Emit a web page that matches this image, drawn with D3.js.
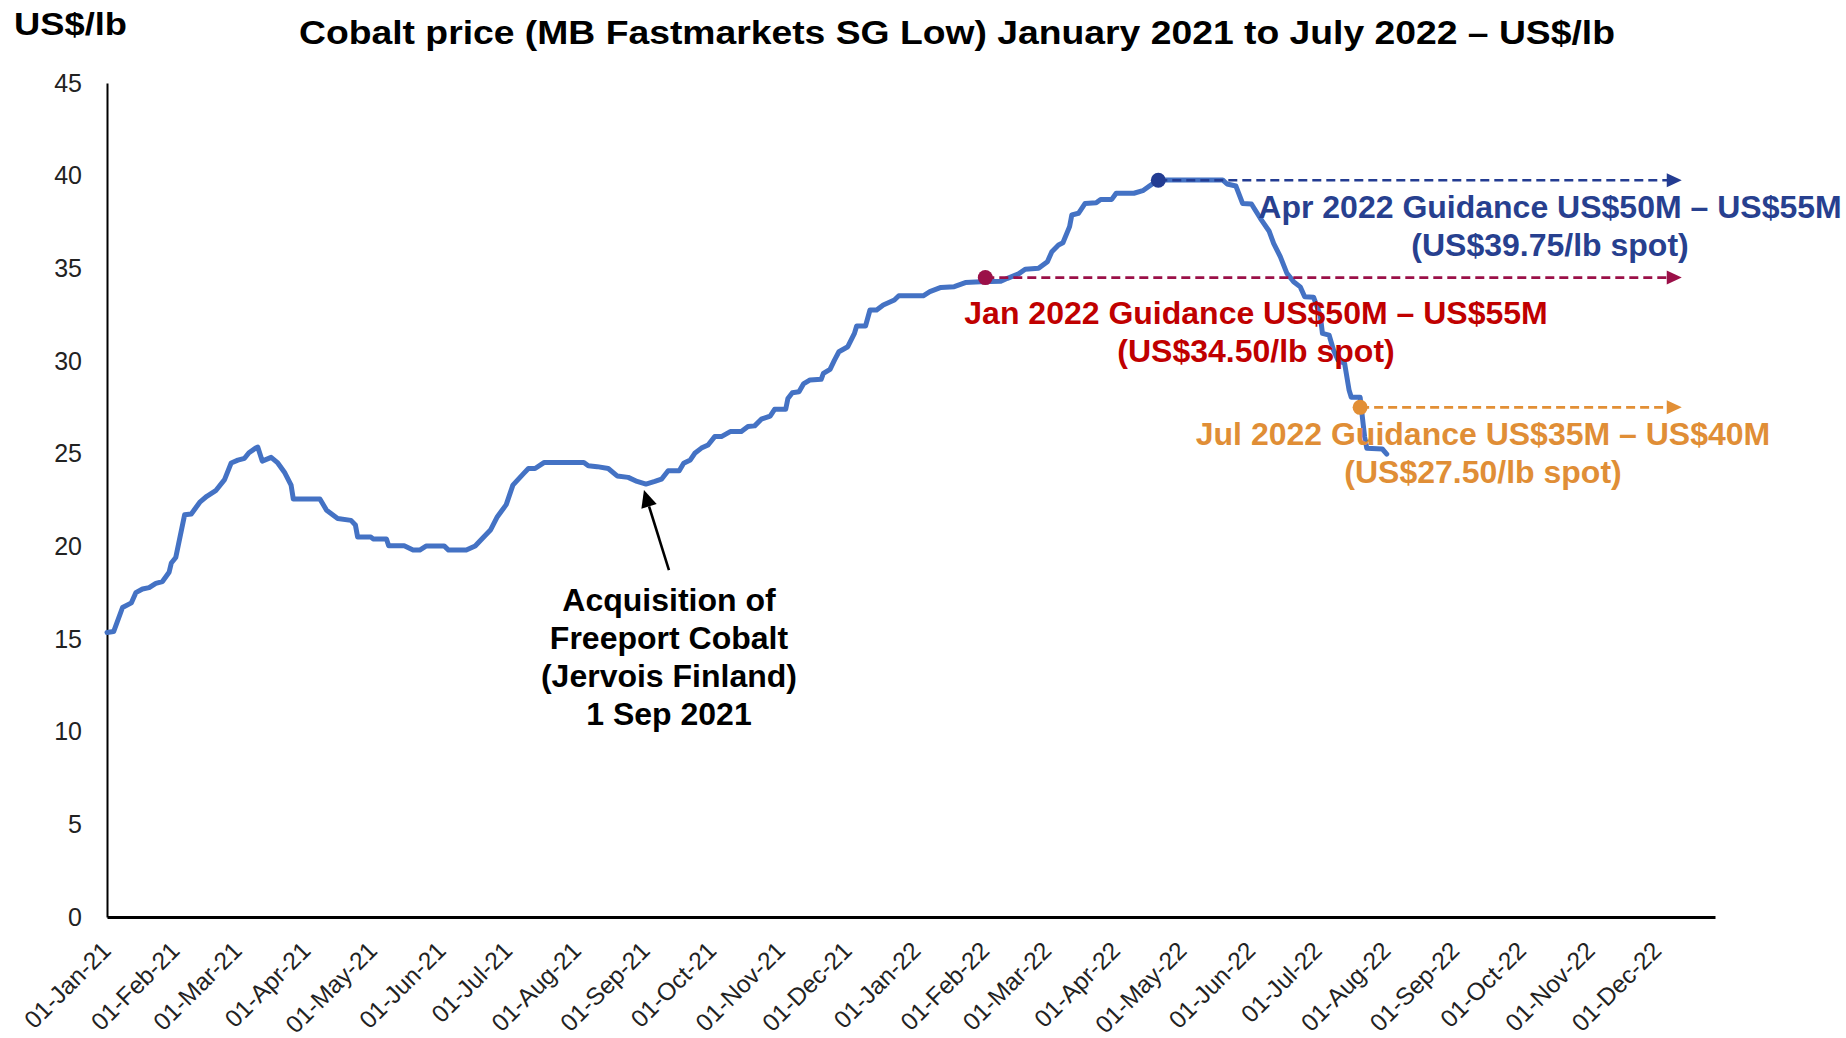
<!DOCTYPE html>
<html><head><meta charset="utf-8">
<script src="https://cdn.jsdelivr.net/npm/d3@7"></script>
<style>
body{margin:0;background:#fff}
svg{display:block}
text{font-family:"Liberation Sans",Arial,Helvetica,sans-serif}
</style>
</head><body>
<svg id="chart" width="1846" height="1038"></svg>
<script>
// ---------- data ----------
const dates = [
"2021-01-01","2021-01-04","2021-01-08","2021-01-12","2021-01-14","2021-01-17","2021-01-20","2021-01-23","2021-01-26","2021-01-29","2021-01-30",
"2021-02-01","2021-02-05","2021-02-08","2021-02-12","2021-02-15","2021-02-19","2021-02-23","2021-02-26",
"2021-03-01","2021-03-04","2021-03-06","2021-03-09","2021-03-10","2021-03-12","2021-03-16","2021-03-19","2021-03-22","2021-03-25","2021-03-26",
"2021-04-07","2021-04-10","2021-04-15","2021-04-21","2021-04-23","2021-04-24","2021-04-30",
"2021-05-01","2021-05-07","2021-05-08","2021-05-15","2021-05-19","2021-05-22","2021-05-25",
"2021-06-02","2021-06-04","2021-06-12","2021-06-16","2021-06-19","2021-06-23","2021-06-26","2021-06-30",
"2021-07-03","2021-07-08","2021-07-10","2021-07-13","2021-07-17",
"2021-08-04","2021-08-06","2021-08-10","2021-08-15","2021-08-19","2021-08-24","2021-08-28",
"2021-09-01","2021-09-05","2021-09-08","2021-09-11","2021-09-16","2021-09-18","2021-09-21","2021-09-23","2021-09-26","2021-09-29",
"2021-10-02","2021-10-05","2021-10-09","2021-10-14","2021-10-17","2021-10-20","2021-10-23","2021-10-27","2021-10-29",
"2021-11-03","2021-11-04","2021-11-06","2021-11-09","2021-11-11","2021-11-14","2021-11-19","2021-11-20","2021-11-23","2021-11-25","2021-11-27",
"2021-12-01","2021-12-04","2021-12-05","2021-12-09","2021-12-11","2021-12-14","2021-12-17","2021-12-22","2021-12-24",
"2022-01-04","2022-01-07","2022-01-12","2022-01-18","2022-01-23","2022-01-30",
"2022-02-08","2022-02-11","2022-02-16","2022-02-19","2022-02-25",
"2022-03-01","2022-03-03","2022-03-06","2022-03-08","2022-03-11","2022-03-12","2022-03-15","2022-03-18","2022-03-23","2022-03-25","2022-03-30",
"2022-04-01","2022-04-09","2022-04-13","2022-04-16","2022-04-20",
"2022-05-19","2022-05-21","2022-05-25","2022-05-28",
"2022-06-01","2022-06-05","2022-06-09","2022-06-11","2022-06-14","2022-06-17","2022-06-20","2022-06-23","2022-06-25","2022-06-29",
"2022-07-02","2022-07-03","2022-07-06","2022-07-08","2022-07-10","2022-07-13","2022-07-15","2022-07-16","2022-07-20","2022-07-22","2022-07-23","2022-07-30","2022-08-01"
];
const prices = [
15.35,15.4,16.7,16.95,17.5,17.7,17.77,18.0,18.1,18.6,19.1,
19.4,21.7,21.75,22.4,22.7,23.0,23.6,24.5,
24.65,24.75,25.05,25.3,25.35,24.6,24.8,24.5,24.0,23.3,22.55,
22.55,21.95,21.5,21.4,21.15,20.5,20.5,
20.4,20.4,20.03,20.03,19.8,19.8,20.02,
20.02,19.8,19.8,20.02,20.4,20.9,21.6,22.25,
23.3,23.95,24.2,24.2,24.52,
24.52,24.35,24.3,24.2,23.8,23.72,23.5,
23.36,23.5,23.62,24.08,24.08,24.48,24.66,25.02,25.3,25.47,
25.92,25.92,26.19,26.19,26.46,26.5,26.86,27.03,27.39,
27.39,27.98,28.29,28.34,28.76,28.98,29.01,29.33,29.55,30.05,30.5,
30.77,31.49,31.89,31.89,32.75,32.75,33.02,33.29,33.52,
33.52,33.74,33.97,34.01,34.23,34.28,
34.3,34.46,34.7,34.95,35.0,
35.36,35.9,36.26,36.38,37.25,37.88,37.97,38.5,38.54,38.72,38.72,
39.05,39.05,39.19,39.44,39.77,
39.77,39.55,39.44,38.5,
38.47,37.7,37.0,36.35,35.63,34.73,34.28,34.0,33.47,33.44,
32.48,31.49,31.4,30.59,30.05,29.87,28.44,28.04,28.04,25.92,25.29,25.25,24.98
];
const yTickValues = [0,5,10,15,20,25,30,35,40,45];
const xTickLabels = ["01-Jan-21","01-Feb-21","01-Mar-21","01-Apr-21","01-May-21","01-Jun-21","01-Jul-21","01-Aug-21","01-Sep-21","01-Oct-21","01-Nov-21","01-Dec-21",
"01-Jan-22","01-Feb-22","01-Mar-22","01-Apr-22","01-May-22","01-Jun-22","01-Jul-22","01-Aug-22","01-Sep-22","01-Oct-22","01-Nov-22","01-Dec-22"];
const guidanceNames = ["Apr 2022 Guidance US$50M \u2013 US$55M","Jan 2022 Guidance US$50M \u2013 US$55M","Jul 2022 Guidance US$35M \u2013 US$40M"];
const guidanceSpot = ["(US$39.75/lb spot)","(US$34.50/lb spot)","(US$27.50/lb spot)"];
const guidanceDates = ["2022-04-20","2022-02-01","2022-07-20"];
const guidanceValues = [39.75,34.5,27.5];
const guidanceArrowEnd = "2022-12-12";
const acquisitionDate = "2021-09-01";
const acquisitionLines = ["Acquisition of","Freeport Cobalt","(Jervois Finland)","1 Sep 2021"];
const titleText = "Cobalt price (MB Fastmarkets SG Low) January 2021 to July 2022 \u2013 US$/lb";
const unitText = "US$/lb";

// ---------- styles / layout ----------
const parse = d3.timeParse("%Y-%m-%d");
const parseTick = d3.timeParse("%d-%b-%y");
const lineColor = "#4472C4";
const guideDot = ["#233C92","#9B1048","#E28F35"];
const guideText = ["#27408F","#C00000","#E08E36"];
const guideTextX = [1550,1256,1483];
const guideTextDy = [38,46,38];

const svg = d3.select("#chart");
const x = d3.scaleTime().domain([parse("2021-01-01"), parse("2022-12-27")]).range([107,1715]);
const y = d3.scaleLinear().domain([0,45]).range([917,83]);

const series = dates.map((d,i)=>({date:parse(d), v:prices[i]}));

// Title
svg.append("text").attr("x",957).attr("y",44).attr("text-anchor","middle")
  .attr("font-size",34).attr("font-weight","bold").attr("fill","#000")
  .attr("textLength",1316).attr("lengthAdjust","spacingAndGlyphs").text(titleText);
svg.append("text").attr("x",14).attr("y",35).attr("font-size",32).attr("font-weight","bold")
  .attr("textLength",113).attr("lengthAdjust","spacingAndGlyphs").text(unitText);

// Y axis
const yAxis = svg.append("g").attr("transform","translate(107,0)")
  .call(d3.axisLeft(y).tickValues(yTickValues).tickSize(0).tickPadding(25).tickSizeOuter(0));
yAxis.select(".domain").attr("stroke","#000").attr("stroke-width",2);
yAxis.selectAll("text").attr("font-size",25).attr("font-family","Liberation Sans, Arial, sans-serif").attr("fill","#222");

// X axis
const xAxis = svg.append("g").attr("transform","translate(0,917)")
  .call(d3.axisBottom(x).tickValues(xTickLabels.map(parseTick)).tickSize(0).tickSizeOuter(0)
    .tickFormat((d,i)=>xTickLabels[i]));
xAxis.select(".domain").attr("stroke","#000").attr("stroke-width",3);
xAxis.selectAll("text").attr("font-size",24.5).attr("font-family","Liberation Sans, Arial, sans-serif").attr("fill","#222")
  .attr("x",0).attr("y",0).attr("dy",0).attr("text-anchor","end")
  .attr("transform","translate(5,35) rotate(-45)");

// Price line
svg.append("path").datum(series)
  .attr("fill","none").attr("stroke",lineColor).attr("stroke-width",5)
  .attr("stroke-linejoin","round").attr("stroke-linecap","round")
  .attr("d", d3.line().x(d=>x(d.date)).y(d=>y(d.v)));

// Guidance lines
const endX = x(parse(guidanceArrowEnd));
guidanceDates.forEach((d,i)=>{
  const gx = x(parse(d)), gy = y(guidanceValues[i]);
  svg.append("line").attr("x1",gx).attr("y1",gy).attr("x2",endX-12).attr("y2",gy)
    .attr("stroke",guideDot[i]).attr("stroke-width",2.6).attr("stroke-dasharray","9,5");
  svg.append("path").attr("d",`M${endX-15},${gy-7}L${endX},${gy}L${endX-15},${gy+7}Z`).attr("fill",guideDot[i]);
  svg.append("circle").attr("cx",gx).attr("cy",gy).attr("r",7.5).attr("fill",guideDot[i]);
  const t = svg.append("text").attr("text-anchor","middle").attr("font-size",32).attr("font-weight","bold")
    .attr("fill",guideText[i]);
  t.append("tspan").attr("x",guideTextX[i]).attr("y",gy+guideTextDy[i]).text(guidanceNames[i]);
  t.append("tspan").attr("x",guideTextX[i]).attr("y",gy+guideTextDy[i]+38).text(guidanceSpot[i]);
});

// Acquisition annotation
const ad = parse(acquisitionDate);
const av = prices[dates.indexOf(acquisitionDate)];
const tipX = x(ad)-2, tipY = y(av)+6;
const tailX = tipX+25, tailY = tipY+80;
const ang = Math.atan2(tipY-tailY, tipX-tailX);
const hl = 17, hw = 8;
const bx = tipX - hl*Math.cos(ang), by = tipY - hl*Math.sin(ang);
svg.append("line").attr("x1",tailX).attr("y1",tailY).attr("x2",bx).attr("y2",by)
  .attr("stroke","#000").attr("stroke-width",2.6);
svg.append("path").attr("fill","#000")
  .attr("d",`M${tipX},${tipY}L${bx - hw*Math.sin(ang)},${by + hw*Math.cos(ang)}L${bx + hw*Math.sin(ang)},${by - hw*Math.cos(ang)}Z`);
const at = svg.append("text").attr("text-anchor","middle").attr("font-size",32).attr("font-weight","bold").attr("fill","#000");
acquisitionLines.forEach((s,i)=>{
  at.append("tspan").attr("x",tailX).attr("y",tailY+41+i*38).text(s);
});
</script>
</body></html>
